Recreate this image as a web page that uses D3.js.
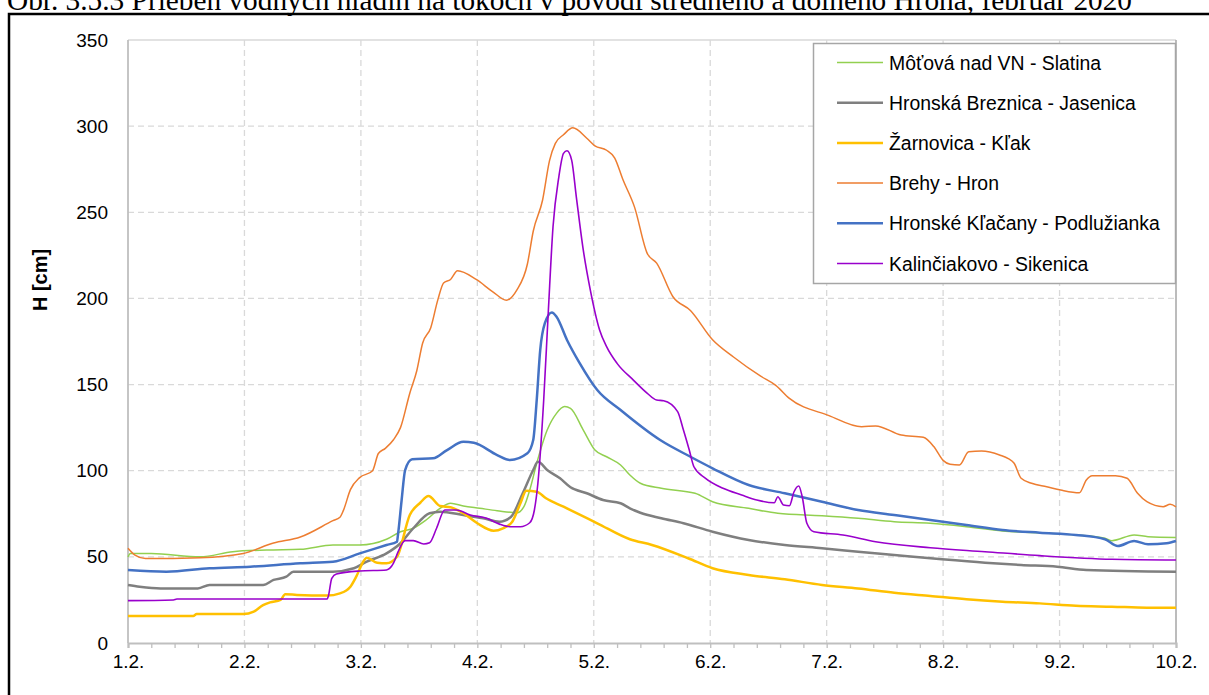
<!DOCTYPE html>
<html><head><meta charset="utf-8">
<script src="https://cdn.jsdelivr.net/npm/d3@7"></script>
<style>body{margin:0;background:#fff;}svg{display:block;}</style>
</head><body>
<svg id="c" width="1209" height="695"></svg>
<script>
const title = "Obr. 3.5.3 Priebeh vodných hladín na tokoch v povodí stredného a dolného Hrona, február 2020";
const dayLabels = ["1.2.","2.2.","3.2.","4.2.","5.2.","6.2.","7.2.","8.2.","9.2.","10.2."];
const yTicks = [0,50,100,150,200,250,300,350];
const seriesNames = ["Môťová nad VN - Slatina","Hronská Breznica - Jasenica","Žarnovica - Kľak","Brehy - Hron","Hronské Kľačany - Podlužianka","Kalinčiakovo - Sikenica"];
const seriesColors = ["#92D050","#7F7F7F","#FFC000","#ED7D31","#4472C4","#9900CC"];
const seriesWidths = [1.5,2.5,2.5,1.5,2.5,1.6];

// [day offset from 1.2. 00:00, H cm]
const slatina = [[0,50],[0.02,52],[0.2,52],[0.62,50],[0.9,53],[1.19,54],[1.48,54.4],[1.76,56.9],[1.99,56.9],[2.22,60.2],[2.34,64.6],[2.45,66.6],[2.56,71.4],[2.68,78.2],[2.77,81.1],[2.88,79.5],[3.02,78.2],[3.17,76.8],[3.34,75.6],[3.40,79.1],[3.45,88.8],[3.51,104.3],[3.60,123.6],[3.68,133.3],[3.75,137.2],[3.80,136.2],[3.91,123.6],[4.01,112],[4.11,108.1],[4.23,103.3],[4.31,97.5],[4.40,92.7],[4.58,89.8],[4.87,86.9],[5.02,82],[5.33,78.2],[5.58,75.3],[5.96,73.9],[6.27,72.4],[6.58,70.4],[6.89,69.5],[7.20,67.5],[7.51,65],[7.83,64],[8.14,62.7],[8.39,60.8],[8.45,59.4],[8.64,62.7],[8.76,61.7],[9.0,61.3]];
const jasenica = [[0,33.7],[0.1,32.7],[0.28,31.7],[0.6,31.7],[0.7,33.7],[1.16,33.7],[1.25,36.6],[1.36,38.5],[1.42,41.4],[1.76,41.4],[1.94,43.4],[2.05,47.2],[2.22,52],[2.34,57.9],[2.45,66.6],[2.59,75.3],[2.68,76.2],[2.88,74.3],[3.05,72.4],[3.19,70.4],[3.29,73.3],[3.39,86.9],[3.48,100.4],[3.52,105.2],[3.60,100.4],[3.71,95.6],[3.80,90.4],[3.94,86.9],[4.08,83],[4.23,81.1],[4.31,78.2],[4.40,75.6],[4.58,72.4],[4.77,69.5],[5.02,64.6],[5.33,59.8],[5.64,56.9],[5.96,55],[6.27,53],[6.58,51.1],[6.99,48.6],[7.36,46.6],[7.67,45.3],[7.98,44.3],[8.23,42.4],[9.0,41.4]];
const klak = [[0,15.7],[0.56,15.7],[0.59,16.8],[0.99,16.8],[1.08,18.2],[1.16,22],[1.22,23.6],[1.31,25],[1.35,28.3],[1.45,27.9],[1.71,27.5],[1.82,28.8],[1.91,32.7],[1.96,38.5],[2.02,47.2],[2.05,49.5],[2.14,46.6],[2.22,46.3],[2.31,50.1],[2.42,74.3],[2.51,81.4],[2.58,85.3],[2.68,79.5],[2.77,78.8],[2.88,75.3],[3.00,69.5],[3.14,65.2],[3.22,66.6],[3.30,70.4],[3.37,81.1],[3.42,88.4],[3.51,87.8],[3.59,84],[3.74,79.1],[4.03,69.5],[4.31,60.2],[4.50,56.9],[4.81,49.2],[5.02,43.4],[5.33,39.5],[5.64,37],[5.96,33.7],[6.27,31.7],[6.58,29.2],[6.89,27.3],[7.20,25.4],[7.51,24],[7.83,23],[8.14,21.6],[8.45,21.1],[8.75,20.5],[9.0,20.5]];
const hron = [[0,55],[0.06,51],[0.15,49],[0.62,49.5],[0.99,52],[1.25,58],[1.48,61.5],[1.76,71],[1.82,73],[1.85,77],[1.91,89],[1.99,96],[2.10,100],[2.15,110],[2.21,113],[2.28,118],[2.34,125],[2.42,145],[2.48,158],[2.53,174],[2.60,183],[2.66,199],[2.71,209],[2.77,211],[2.83,216],[2.99,211],[3.13,204],[3.25,199],[3.34,205],[3.43,220],[3.48,239],[3.56,257],[3.62,280],[3.67,290],[3.74,295],[3.82,299],[3.94,293],[4.01,288.5],[4.11,286],[4.18,281.5],[4.25,269],[4.35,253],[4.46,226],[4.54,220.5],[4.68,201],[4.83,193],[5.02,176],[5.20,166],[5.43,155],[5.56,149.7],[5.68,142],[6.02,132],[6.30,125.5],[6.42,126],[6.64,120.7],[6.83,119.4],[6.92,114],[7.00,106],[7.06,103.7],[7.14,103.3],[7.22,111],[7.33,111.4],[7.49,109],[7.56,107],[7.61,104.3],[7.67,95.6],[7.76,92.7],[7.89,90.7],[8.01,88.8],[8.17,87.2],[8.23,94.6],[8.28,97.1],[8.48,97.1],[8.58,95.6],[8.67,86.9],[8.75,82],[8.89,79.1],[8.95,80.5],[9.0,79]];
const podluzianka = [[0,42.4],[0.33,41.4],[0.7,43.4],[1.05,44.3],[1.48,46.3],[1.76,47.2],[1.99,52],[2.22,56.9],[2.31,58.8],[2.32,63.7],[2.35,83],[2.38,100.4],[2.44,106.6],[2.62,107.2],[2.74,112],[2.88,116.8],[2.97,116.2],[3.17,109.1],[3.28,106.2],[3.43,110.1],[3.48,117.8],[3.51,141],[3.54,170],[3.58,185.6],[3.64,191.9],[3.68,189.4],[3.77,175.9],[3.88,162.3],[4.03,146.8],[4.23,135.2],[4.57,117.8],[4.83,108.1],[5.02,101.4],[5.33,91.7],[5.64,86.9],[5.96,82],[6.27,77.2],[6.58,74.3],[6.89,71.4],[7.20,68.5],[7.51,65.6],[7.83,64],[8.14,62.7],[8.39,60.2],[8.50,56.3],[8.64,59.2],[8.76,57.3],[8.92,57.9],[9.0,59.2]];
const sikenica = [[0,24.6],[0.39,25],[0.42,25.5],[1.71,25.5],[1.72,27],[1.75,37.5],[1.79,40],[1.99,41.8],[2.22,42.4],[2.28,46.3],[2.32,53],[2.38,59.4],[2.45,59.4],[2.54,57.5],[2.59,58.2],[2.65,66.6],[2.72,77.2],[2.82,77.2],[2.94,74.3],[3.08,72.4],[3.19,69],[3.28,67.5],[3.37,67.5],[3.45,69.8],[3.49,77.2],[3.52,92.7],[3.57,141],[3.61,193],[3.65,241.6],[3.70,270.6],[3.74,284.2],[3.77,285.7],[3.81,280.3],[3.85,259],[3.91,228],[3.97,205],[4.05,181.7],[4.11,172],[4.20,162.3],[4.34,152.6],[4.46,144.9],[4.54,141],[4.60,140.6],[4.72,134.3],[4.77,123.6],[4.82,112],[4.86,102.3],[4.96,95.6],[5.11,89.8],[5.27,85.9],[5.40,83],[5.55,81.4],[5.58,84.9],[5.63,80.1],[5.68,79.7],[5.72,87.8],[5.76,91.1],[5.79,84.9],[5.83,69.5],[5.89,64.6],[6.14,62.7],[6.42,58.8],[6.89,55.3],[7.36,53],[7.83,50.7],[8.45,48.6],[9.0,48.2]];
const seriesData = [slatina, jasenica, klak, hron, podluzianka, sikenica];

const svg = d3.select("#c");
const m = {l:128, r:1176, t:40, b:643};
const x = d3.scaleLinear().domain([0, 9]).range([m.l, m.r]);
const y = d3.scaleLinear().domain([0, 350]).range([m.b, m.t]);
const font = "'Liberation Sans', Arial, sans-serif";

// title (its top is cut off by the page edge, as in the reference)
svg.append("text").attr("x", 7).attr("y", 10).attr("font-family", "'Liberation Serif','Times New Roman',serif")
  .attr("font-size", 29).attr("fill", "#000")
  .attr("textLength", 1125).attr("lengthAdjust", "spacingAndGlyphs").text(title);

// outer frame
svg.append("rect").attr("x", 9).attr("y", 14).attr("width", 1300).attr("height", 800)
  .attr("fill", "none").attr("stroke", "#000").attr("stroke-width", 2.5);

// grid
const g = svg.append("g");
g.selectAll("line.hg").data(yTicks.filter(d => d > 0 && d < 350)).join("line")
  .attr("x1", m.l).attr("x2", m.r).attr("y1", d => y(d)).attr("y2", d => y(d))
  .attr("stroke", "#D9D9D9").attr("stroke-width", 1.3).attr("stroke-dasharray", "6,4");
g.selectAll("line.vg").data(d3.range(1, 9)).join("line")
  .attr("x1", d => x(d)).attr("x2", d => x(d)).attr("y1", m.t).attr("y2", m.b)
  .attr("stroke", "#D9D9D9").attr("stroke-width", 1.3).attr("stroke-dasharray", "6,4");

// plot border
svg.append("line").attr("x1", m.l).attr("x2", m.r).attr("y1", m.t).attr("y2", m.t).attr("stroke", "#D9D9D9").attr("stroke-width", 1.3);
svg.append("line").attr("x1", m.l).attr("x2", m.l).attr("y1", m.t).attr("y2", m.b).attr("stroke", "#BFBFBF").attr("stroke-width", 1.8);
svg.append("line").attr("x1", m.r).attr("x2", m.r).attr("y1", m.t).attr("y2", m.b).attr("stroke", "#A6A6A6").attr("stroke-width", 1.5);

// y axis labels
const yAxis = d3.axisLeft(y).tickValues(yTicks).tickSize(0).tickPadding(20);
const ya = svg.append("g").attr("transform", `translate(${m.l},0)`).call(yAxis);
ya.select(".domain").remove();
ya.selectAll("text").attr("font-family", font).attr("font-size", 19).attr("fill", "#000");

// x axis with minor ticks
const xa = svg.append("g").attr("transform", `translate(0,${m.b})`)
  .call(d3.axisBottom(x).tickValues(d3.range(0, 9.001, 0.2)).tickSize(5).tickFormat(""));
xa.select(".domain").attr("stroke", "#BFBFBF").attr("stroke-width", 2.2);
xa.selectAll(".tick line").attr("stroke", "#BFBFBF").attr("stroke-width", 1.3);
const xl = svg.append("g").attr("transform", `translate(0,${m.b})`)
  .call(d3.axisBottom(x).tickValues(d3.range(0, 10)).tickSize(0).tickPadding(12).tickFormat((d, i) => dayLabels[i]));
xl.select(".domain").remove();
xl.selectAll("text").attr("font-family", font).attr("font-size", 19).attr("fill", "#000");

// axis title
svg.append("text").attr("transform", "translate(47,280) rotate(-90)").attr("text-anchor", "middle")
  .attr("font-family", font).attr("font-size", 20).attr("font-weight", "bold").text("H [cm]");

// lines
const line = d3.line().x(d => x(d[0])).y(d => y(d[1])).curve(d3.curveMonotoneX);
svg.append("g").selectAll("path").data(seriesData).join("path")
  .attr("d", line).attr("fill", "none")
  .attr("stroke", (d, i) => seriesColors[i]).attr("stroke-width", (d, i) => seriesWidths[i])
  .attr("stroke-linejoin", "round");

// legend
const lg = svg.append("g");
lg.append("rect").attr("x", 813.5).attr("y", 43.5).attr("width", 362).attr("height", 240)
  .attr("fill", "#fff").attr("stroke", "#A6A6A6").attr("stroke-width", 1.5);
const items = lg.selectAll("g.it").data(seriesNames).join("g").attr("transform", (d, i) => `translate(0,${62.5 + i * 40.2})`);
items.append("line").attr("x1", 837).attr("x2", 883).attr("y1", 0).attr("y2", 0)
  .attr("stroke", (d, i) => seriesColors[i]).attr("stroke-width", (d, i) => seriesWidths[i]);
items.append("text").attr("x", 889).attr("y", 7).attr("font-family", font).attr("font-size", 19.4).attr("fill", "#000").text(d => d);
</script>
</body></html>
